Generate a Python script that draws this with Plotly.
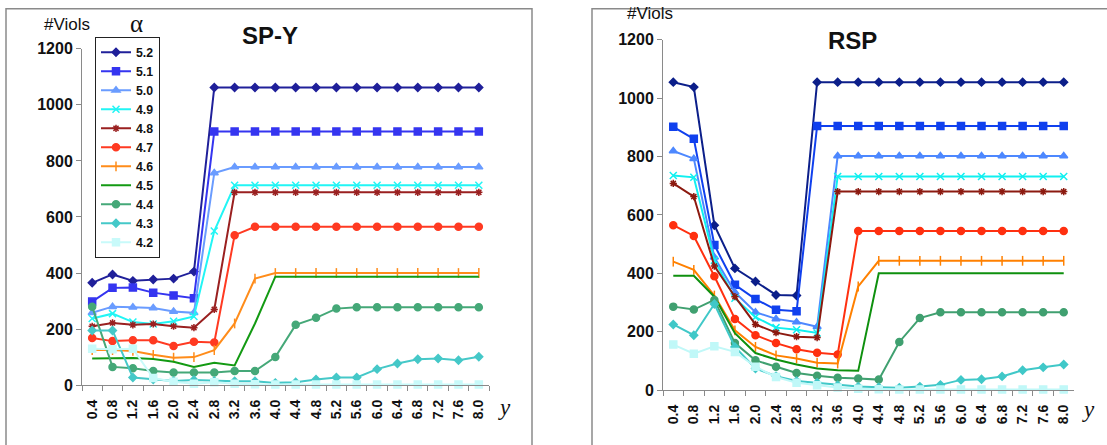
import plotly.graph_objects as go

W, H = 1107, 445

y_cats = ["0.4", "0.8", "1.2", "1.6", "2.0", "2.4", "2.8", "3.2", "3.6", "4.0",
          "4.4", "4.8", "5.2", "5.6", "6.0", "6.4", "6.8", "7.2", "7.6", "8.0"]
alphas = ["5.2", "5.1", "5.0", "4.9", "4.8", "4.7", "4.6", "4.5", "4.4", "4.3", "4.2"]

# SP-Y panel values (one list per alpha)
spy_52 = [365, 395, 372, 377, 380, 405] + [1062] * 14
spy_51 = [298, 347, 348, 330, 320, 310] + [905] * 14
spy_50 = [258, 280, 278, 275, 263, 258, 757] + [778] * 13
spy_49 = [238, 255, 225, 218, 228, 245, 550] + [713] * 13
spy_48 = [210, 222, 215, 218, 210, 205, 270] + [688] * 13
spy_47 = [168, 157, 160, 160, 140, 155, 152, 535] + [565] * 12
spy_46 = [125, 125, 122, 108, 98, 100, 125, 220, 380] + [400] * 11
spy_45 = [95, 97, 97, 93, 83, 65, 80, 70, 220] + [387] * 11
spy_44 = [280, 65, 60, 50, 45, 45, 45, 50, 50, 100, 215, 240, 273] + [278] * 7
spy_43 = [195, 195, 27, 20, 15, 18, 15, 14, 14, 8, 10, 20, 27, 27, 57, 77, 92, 95, 89, 101]
spy_42 = [130, 128, 130, 25, 12, 5, 10, 5, 3, 2, 2, 2, 2, 2, 2, 2, 2, 2, 2, 2]

# RSP panel values
rsp_52 = [1055, 1038, 565, 417, 372, 326, 324] + [1055] * 13
rsp_51 = [902, 861, 497, 361, 312, 275, 270] + [905] * 13
rsp_50 = [819, 793, 455, 335, 267, 244, 233, 217] + [802] * 12
rsp_49 = [735, 729, 445, 315, 250, 214, 207, 196] + [732] * 12
rsp_48 = [708, 663, 425, 320, 225, 197, 183, 180] + [680] * 12
rsp_47 = [565, 528, 390, 244, 188, 161, 140, 128, 122] + [545] * 11
rsp_46 = [440, 412, 324, 205, 148, 119, 108, 94, 91, 355] + [443] * 10
rsp_45 = [392, 392, 320, 195, 127, 105, 88, 74, 68, 66] + [400] * 10
rsp_44 = [286, 276, 309, 161, 102, 80, 59, 49, 42, 40, 36, 165, 247] + [267] * 7
rsp_43 = [225, 188, 295, 148, 74, 48, 31, 25, 17, 12, 10, 8, 12, 18, 35, 37, 47, 68, 78, 88]
rsp_42 = [156, 125, 150, 131, 80, 45, 25, 17, 9, 5, 3, 2, 2, 2, 2, 2, 2, 2, 2, 2]

spy_series = [spy_52, spy_51, spy_50, spy_49, spy_48, spy_47, spy_46, spy_45, spy_44, spy_43, spy_42]
rsp_series = [rsp_52, rsp_51, rsp_50, rsp_49, rsp_48, rsp_47, rsp_46, rsp_45, rsp_44, rsp_43, rsp_42]

colors = ["#20209a", "#3535f0", "#6a9cff", "#22f5f5", "#9a2020", "#ff3a22",
          "#ff8c1a", "#139a13", "#45a878", "#45c8c8", "#c8fafa"]
colors_r = ["#0c1f8a", "#1040ee", "#4d88ff", "#10f0f0", "#8c1a10", "#ff3010",
            "#ff8000", "#0e900e", "#40a070", "#40c8c8", "#c0f8f8"]
symbols = ["diamond", "square", "triangle-up", "x-thin", "asterisk", "circle",
           "line-ns", "circle", "circle", "diamond", "square"]
sizes = [6, 7, 7, 7, 6, 7, 7, 0, 7, 6, 7]
show_marker = [True, True, True, True, True, True, True, False, True, True, True]


def py(Y):
    # convert a target picture row to a page row (capture maps page rows slightly)
    return (Y - 8.2) / 0.961


def pyf(Y):
    return 1 - py(Y) / H


fig = go.Figure()

for i, a in enumerate(alphas):
    for panel, series, cols, xa, ya in (("L", spy_series, colors, "x", "y"),
                                         ("R", rsp_series, colors_r, "x2", "y2")):
        mk = dict(symbol=symbols[i], size=sizes[i], color=cols[i],
                  line=dict(color=cols[i], width=1.5))
        fig.add_trace(go.Scatter(
            x=y_cats, y=series[i], name=a,
            mode="lines+markers" if show_marker[i] else "lines",
            line=dict(color=cols[i], width=2),
            marker=mk, xaxis=xa, yaxis=ya,
            showlegend=(panel == "L"), legendgroup=a,
            cliponaxis=False,
        ))

axis_line = "#8a8a8a"
xcommon = dict(type="category", categoryorder="array", categoryarray=y_cats,
               range=[-0.5, 19.5], tickson="boundaries", ticks="outside", ticklen=5,
               tickcolor=axis_line, showline=True, linecolor=axis_line, linewidth=1,
               showgrid=False, zeroline=False, tickangle=-90, ticklabelstandoff=8,
               tickfont=dict(family="Liberation Sans, Arial", size=14, color="#111", weight="bold"))
ycommon = dict(range=[0, 1200], tickvals=[0, 200, 400, 600, 800, 1000, 1200],
               ticks="outside", ticklen=5, tickcolor=axis_line, showline=True,
               linecolor=axis_line, linewidth=1, showgrid=False, zeroline=False,
               tickfont=dict(family="Liberation Sans, Arial", size=16, color="#111", weight="bold"))

fig.update_layout(
    width=W, height=H, margin=dict(l=0, r=0, t=0, b=0),
    paper_bgcolor="white", plot_bgcolor="white",
    xaxis=dict(domain=[82 / W, 489 / W], anchor="y", **xcommon),
    yaxis=dict(domain=[pyf(385), pyf(49)], anchor="x", **ycommon),
    xaxis2=dict(domain=[663 / W, 1074 / W], anchor="y2", **xcommon),
    yaxis2=dict(domain=[pyf(390), pyf(40)], anchor="x2", **ycommon),
    legend=dict(x=95 / W, y=pyf(37), xanchor="left", yanchor="top",
                bordercolor="#222", borderwidth=1, bgcolor="white",
                font=dict(family="Liberation Sans, Arial", size=12.3, color="#111", weight="bold"),
                itemwidth=30, tracegroupgap=0),
    showlegend=True,
)

shapes = [
    dict(type="rect", xref="paper", yref="paper", x0=6 / W, x1=532 / W,
         y0=-0.05, y1=1 - 0.8 / H, line=dict(color="#8a8a8a", width=1.5)),
    dict(type="rect", xref="paper", yref="paper", x0=592 / W, x1=1.05,
         y0=-0.05, y1=1 - 0.8 / H, line=dict(color="#8a8a8a", width=1.5)),
]
fig.update_layout(shapes=shapes)


def ann(text, x, Y, size, family="Liberation Sans, Arial", weight="normal", style="normal"):
    fig.add_annotation(text=text, x=x / W, y=pyf(Y), xref="paper", yref="paper",
                       showarrow=False, xanchor="center", yanchor="middle",
                       font=dict(family=family, size=size, color="#111", weight=weight, style=style))


ann("SP-Y", 270, 36, 24, weight="bold")
ann("RSP", 852, 41, 24, weight="bold")
ann("#Viols", 67, 25, 17)
ann("#Viols", 650, 14, 17)
ann("α", 136, 24, 25, family="Liberation Serif, Times New Roman")
ann("y", 504, 407, 23, family="Liberation Serif, Times New Roman", style="italic")
ann("y", 1088, 409, 23, family="Liberation Serif, Times New Roman", style="italic")

fig.write_html("out.html", config={"displayModeBar": False},
               post_script="document.body.style.margin='0';document.body.style.overflow='hidden';")
